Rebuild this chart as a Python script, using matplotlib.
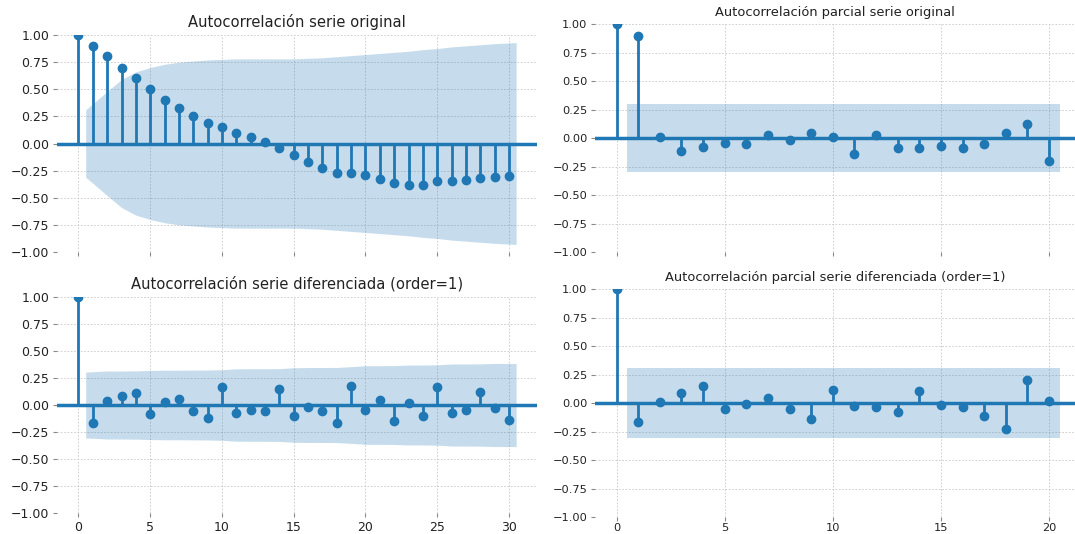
import numpy as np
import matplotlib.pyplot as plt

# Datos
acf_original = [1.00, 0.90, 0.81, 0.70, 0.60, 0.50, 0.40, 0.33, 0.25, 0.19, 0.15,
                0.10, 0.06, 0.01, -0.04, -0.11, -0.17, -0.23, -0.27, -0.27, -0.29,
                -0.33, -0.36, -0.38, -0.38, -0.35, -0.35, -0.34, -0.32, -0.31, -0.30]
conf_acf_original = [0.31, 0.48, 0.59, 0.66, 0.70, 0.73, 0.75, 0.76, 0.77, 0.775,
                     0.78, 0.78, 0.78, 0.78, 0.78, 0.785, 0.79, 0.80, 0.81, 0.82,
                     0.83, 0.84, 0.85, 0.865, 0.875, 0.89, 0.90, 0.91, 0.92, 0.93]

acf_diff = [1.00, -0.17, 0.04, 0.08, 0.11, -0.085, 0.03, 0.055, -0.06, -0.12, 0.165,
            -0.075, -0.045, -0.06, 0.145, -0.10, -0.02, -0.06, -0.17, 0.175, -0.045,
            0.045, -0.145, 0.015, -0.10, 0.165, -0.075, -0.05, 0.12, -0.03, -0.135]
conf_acf_diff = [0.305, 0.315, 0.315, 0.316, 0.32, 0.322, 0.322, 0.323, 0.324, 0.327,
                 0.335, 0.336, 0.336, 0.337, 0.345, 0.347, 0.347, 0.348, 0.355, 0.364,
                 0.364, 0.365, 0.37, 0.37, 0.372, 0.38, 0.38, 0.381, 0.385, 0.385]

pacf_original = [1.00, 0.897, 0.012, -0.11, -0.075, -0.045, -0.055, 0.027, -0.02, 0.047,
                 0.012, -0.14, 0.027, -0.085, -0.085, -0.07, -0.085, -0.05, 0.047, 0.125,
                 -0.20]
conf_pacf_original = 0.30

pacf_diff = [1.00, -0.17, 0.01, 0.09, 0.148, -0.053, -0.006, 0.04, -0.053, -0.14, 0.11,
             -0.024, -0.035, -0.077, 0.103, -0.018, -0.035, -0.112, -0.224, 0.204, 0.015]
conf_pacf_diff = 0.308

color = '#1f77b4'


def dibujar_correlograma(ax, valores, conf, titulo, xlim, fs_titulo, fs_ticks, etiquetas_x):
    lags = np.arange(len(valores))
    valores = np.array(valores)
    banda = np.broadcast_to(np.array(conf, dtype=float), (len(valores) - 1,))
    x_banda = lags[1:].astype(float)
    x_banda[0] -= 0.5
    x_banda[-1] += 0.5
    ax.fill_between(x_banda, -banda, banda, color=color, alpha=0.25, lw=0)
    ax.axhline(0, color=color, lw=2.5, zorder=2)
    ax.vlines(lags, 0, valores, color=color, lw=2, zorder=3)
    ax.plot(lags, valores, 'o', color=color, markersize=6, zorder=4, clip_on=True)
    ax.set_xlim(*xlim)
    ax.set_ylim(-1, 1)
    ax.set_yticks(np.arange(-1, 1.01, 0.25))
    ax.set_title(titulo, fontsize=fs_titulo, color='#222222', pad=6)
    for s in ax.spines.values():
        s.set_visible(False)
    ax.grid(True, color='#c8c8c8', linestyle=(0, (2, 2)), linewidth=0.6)
    ax.set_axisbelow(True)
    ax.tick_params(colors='#888888', labelcolor='#222222', labelsize=fs_ticks,
                   length=3, pad=2.5)
    if not etiquetas_x:
        ax.tick_params(axis='x', labelbottom=False)


fig = plt.figure(figsize=(10.75, 5.34), dpi=100)

ax1 = fig.add_axes([0.053, 0.528, 0.4465, 0.4065])
ax2 = fig.add_axes([0.5535, 0.528, 0.4465, 0.427])
ax3 = fig.add_axes([0.053, 0.0393, 0.4465, 0.4045])
ax4 = fig.add_axes([0.5535, 0.0318, 0.4465, 0.427])

xticks_izq = [0, 5, 10, 15, 20, 25, 30]
xticks_der = [0, 5, 10, 15, 20]

dibujar_correlograma(ax1, acf_original, conf_acf_original, 'Autocorrelación serie original',
                     (-1.5, 31.95), 10.6, 9, False)
dibujar_correlograma(ax2, pacf_original, conf_pacf_original, 'Autocorrelación parcial serie original',
                     (-1.0, 21.2), 9.4, 8.2, False)
dibujar_correlograma(ax3, acf_diff, conf_acf_diff, 'Autocorrelación serie diferenciada (order=1)',
                     (-1.5, 31.95), 10.6, 9, True)
dibujar_correlograma(ax4, pacf_diff, conf_pacf_diff, 'Autocorrelación parcial serie diferenciada (order=1)',
                     (-1.0, 21.2), 9.4, 8.2, True)

for ax in (ax1, ax3):
    ax.set_xticks(xticks_izq)
for ax in (ax2, ax4):
    ax.set_xticks(xticks_der)
    ax.tick_params(axis='x', pad=1.5)

fig.savefig('out.png', dpi=100)
